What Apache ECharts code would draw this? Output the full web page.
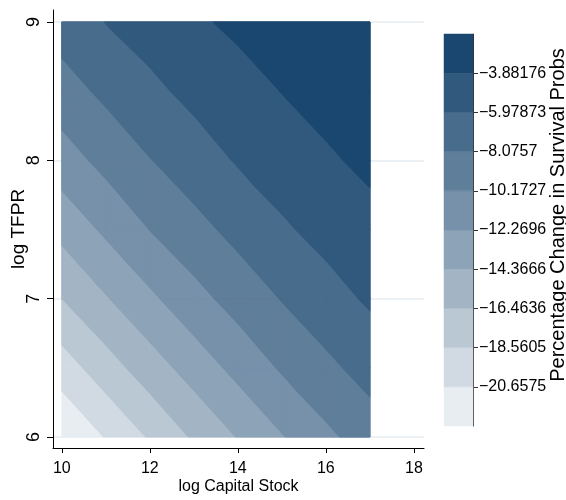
<!DOCTYPE html>
<html><head><meta charset="utf-8">
<script src="https://cdn.jsdelivr.net/npm/echarts@6/dist/echarts.min.js"></script>
<style>html,body{margin:0;padding:0;background:#fff}#c{width:566px;height:500px}</style>
</head><body><div id="c"></div>
<script>
// ---- data ----
const xValues = [10, 11, 12, 13, 14, 15, 16, 17];      // log Capital Stock grid
const yValues = [6, 6.5, 7, 7.5, 8, 8.5, 9];           // log TFPR grid
// Percentage change in survival probs at each grid node (row = yValues, col = xValues)
const zAtY6_0 = [-22.75, -20.53, -18.34, -16.18, -14.26, -12.40, -10.63, -9.14];
const zAtY6_5 = [-19.59, -17.40, -15.35, -13.47, -11.64, -9.93, -8.55, -7.29];
const zAtY7_0 = [-16.46, -14.52, -12.67, -10.88, -9.34, -7.98, -6.77, -5.69];
const zAtY7_5 = [-13.73, -11.89, -10.13, -8.74, -7.46, -6.26, -5.33, -4.50];
const zAtY8_0 = [-11.13, -9.54, -8.15, -6.94, -5.81, -4.98, -4.14, -3.47];
const zAtY8_5 = [-8.94, -7.63, -6.43, -5.45, -4.62, -3.84, -3.22, -2.63];
const zAtY9_0 = [-7.12, -5.93, -5.10, -4.17, -3.50, -2.92, -2.36, -1.78];
const zRows = [zAtY6_0, zAtY6_5, zAtY7_0, zAtY7_5, zAtY8_0, zAtY8_5, zAtY9_0];
// contour cut points (colorbar tick labels)
const levels = [-20.6575, -18.5605, -16.4636, -14.3666, -12.2696, -10.1727, -8.0757, -5.97873, -3.88176];
const levelLabels = ['\u221220.6575', '\u221218.5605', '\u221216.4636', '\u221214.3666', '\u221212.2696',
                     '\u221210.1727', '\u22128.0757', '\u22125.97873', '\u22123.88176'];
const colorbarRange = [-22.7545, -1.78479];
const xTicks = [10, 12, 14, 16, 18];
const yTicks = [6, 7, 8, 9];

// ---- style ----
const FONT = 'Liberation Sans';
const navy = [26, 71, 111];
function bandColor(b) { // b = 0 (lowest) .. 9 (highest); Stata navy at intensity (b+1)/10
  const t = (b + 1) / 10;
  const c = navy.map(v => Math.round(255 - t * (255 - v)));
  return 'rgb(' + c.join(',') + ')';
}
const nBands = levels.length + 1;

function clip(poly, v) { // keep part with z >= v
  const out = [];
  for (let k = 0; k < poly.length; k++) {
    const a = poly[k], b = poly[(k + 1) % poly.length];
    const da = a[2] - v, db = b[2] - v;
    if (da >= 0) out.push(a);
    if ((da >= 0) !== (db >= 0)) {
      const t = da / (da - db);
      out.push([a[0] + t * (b[0] - a[0]), a[1] + t * (b[1] - a[1]), v]);
    }
  }
  return out;
}

const cells = [];
for (let j = 0; j < yValues.length - 1; j++)
  for (let i = 0; i < xValues.length - 1; i++)
    cells.push([xValues[i], yValues[j], i, j]);

// one series per contour band: region z >= lower cut, painted lightest first
function makeRender(b) {
  return function (params, api) {
    const i = api.value(2), j = api.value(3);
    const P = (ii, jj) => [xValues[ii], yValues[jj], zRows[jj][ii]];
    const p00 = P(i, j), p10 = P(i + 1, j), p11 = P(i + 1, j + 1), p01 = P(i, j + 1);
    const tris = [[p00, p10, p01], [p10, p11, p01]];
    const col = bandColor(b);
    const children = [];
    tris.forEach(tri => {
      const poly = b === 0 ? tri : clip(tri, levels[b - 1]);
      if (poly.length >= 3) {
        children.push({
          type: 'polygon',
          shape: { points: poly.map(p => api.coord([p[0], p[1]])) },
          style: { fill: col, stroke: col, lineWidth: 0.8 }
        });
      }
    });
    return { type: 'group', children };
  };
}

const bandEdges = [colorbarRange[0]].concat(levels, [colorbarRange[1]]);
const bandData = bandEdges.slice(0, -1).map((lo, b) => [0, lo, b]);
function renderBand(params, api) {
  const b = api.value(2);
  const p0 = api.coord([0, bandEdges[b + 1]]);
  const p1 = api.coord([1, bandEdges[b]]);
  return {
    type: 'rect',
    shape: { x: p0[0], y: p0[1], width: p1[0] - p0[0], height: p1[1] - p0[1] },
    style: { fill: bandColor(b), stroke: bandColor(b), lineWidth: 0.5 }
  };
}

function levelLabel(v) {
  let best = 0;
  levels.forEach((l, k) => { if (Math.abs(l - v) < Math.abs(levels[best] - v)) best = k; });
  return levelLabels[best];
}

const contourSeries = [];
for (let b = 0; b < nBands; b++) {
  contourSeries.push({
    type: 'custom', xAxisIndex: 0, yAxisIndex: 0, data: cells,
    renderItem: makeRender(b), silent: true, z: 2
  });
}

const chart = echarts.init(document.getElementById('c'), null, { renderer: 'canvas' });
chart.setOption({
  animation: false,
  backgroundColor: '#fff',
  textStyle: { fontFamily: FONT, color: '#000' },
  grid: [
    { left: 53, right: 142, top: 10, bottom: 52, containLabel: false, outerBoundsMode: 'none' },
    { left: 444, top: 34, width: 29, height: 392, containLabel: false, outerBoundsMode: 'none' }
  ],
  xAxis: [
    {
      type: 'value', gridIndex: 0, min: 9.8, max: 18.23,
      axisLine: { show: true, onZero: false, lineStyle: { color: '#000', width: 1 } },
      axisTick: { show: true, customValues: xTicks, length: 5, lineStyle: { color: '#000' } },
      axisLabel: { customValues: xTicks, fontSize: 16, margin: 13, color: '#000', fontFamily: FONT },
      splitLine: { show: false },
      name: 'log Capital Stock', nameLocation: 'middle', nameGap: 31, nameMoveOverlap: false,
      nameTextStyle: { fontSize: 16, color: '#000', fontFamily: FONT }
    },
    { type: 'value', gridIndex: 1, min: 0, max: 1, show: false }
  ],
  yAxis: [
    {
      type: 'value', gridIndex: 0, min: 5.92, max: 9.087,
      axisLine: { show: true, onZero: false, lineStyle: { color: '#000', width: 1 } },
      axisTick: { show: true, customValues: yTicks, length: 6, lineStyle: { color: '#000' } },
      axisLabel: { customValues: yTicks, rotate: 90, fontSize: 18, margin: 10, color: '#000', fontFamily: FONT },
      splitLine: { show: true, lineStyle: { color: '#e4edf0', width: 1.5 } },
      name: 'log TFPR', nameLocation: 'middle', nameGap: 25, nameRotate: 90, nameMoveOverlap: false,
      nameTextStyle: { fontSize: 19, color: '#000', fontFamily: FONT }
    },
    {
      type: 'value', gridIndex: 1, position: 'right', min: colorbarRange[0], max: colorbarRange[1],
      axisLine: { show: true, onZero: false, lineStyle: { color: '#333', width: 1 } },
      axisTick: { show: true, customValues: levels, length: 5, lineStyle: { color: '#333' } },
      axisLabel: { customValues: levels, formatter: levelLabel, fontSize: 16, margin: 6, color: '#000', fontFamily: FONT },
      splitLine: { show: false },
      name: 'Percentage Change in Survival Probs', nameLocation: 'middle', nameGap: 75, nameRotate: 90,
      nameMoveOverlap: false,
      nameTextStyle: { fontSize: 20, color: '#000', fontFamily: FONT, padding: [0, 0, 0, 30] }
    }
  ],
  series: contourSeries.concat([
    {
      type: 'custom', xAxisIndex: 1, yAxisIndex: 1, data: bandData,
      renderItem: renderBand, silent: true
    }
  ])
});
</script></body></html>
